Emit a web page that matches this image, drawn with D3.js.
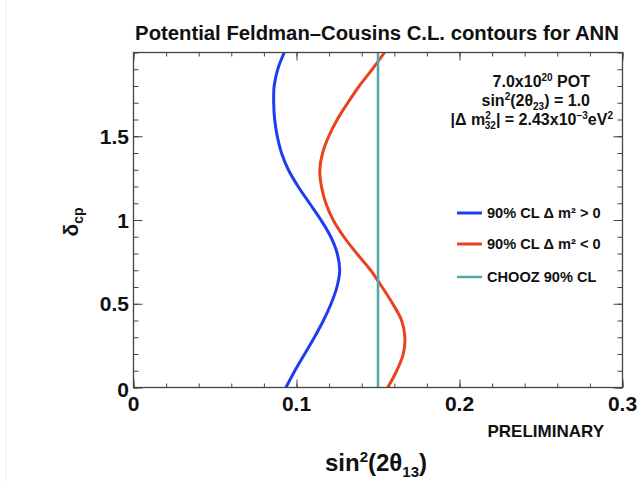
<!DOCTYPE html>
<html>
<head>
<meta charset="utf-8">
<script src="https://cdn.jsdelivr.net/npm/d3@7"></script>
<style>
  html, body { margin: 0; padding: 0; background: #fff; }
  svg { display: block; }
  text { font-family: "Liberation Sans", Arial, Helvetica, sans-serif; font-weight: bold; fill: #111; }
</style>
</head>
<body>
<svg id="chart" width="639" height="481"></svg>
<script>
// delta_CP values (units of pi) at which the contours are sampled
const deltaCP = [0.0, 0.1, 0.2, 0.3, 0.4, 0.5, 0.6, 0.7, 0.8, 0.9, 1.0,
                 1.1, 1.2, 1.3, 1.4, 1.5, 1.6, 1.7, 1.8, 1.9, 2.0];
// 90% CL contour, normal hierarchy (dm2 > 0)
const sin2NormalHier = [0.0935, 0.0990, 0.1050, 0.1110, 0.1165, 0.1212, 0.1248, 0.1265, 0.1250, 0.1210, 0.1150,
                        0.1080, 0.1010, 0.0950, 0.0908, 0.0882, 0.0866, 0.0860, 0.0863, 0.0885, 0.0925];
// 90% CL contour, inverted hierarchy (dm2 < 0)
const sin2InvertedHier = [0.1560, 0.1615, 0.1655, 0.1665, 0.1645, 0.1590, 0.1525, 0.1455, 0.1370, 0.1290, 0.1225,
                          0.1180, 0.1153, 0.1143, 0.1160, 0.1198, 0.1250, 0.1315, 0.1385, 0.1465, 0.1540];
// CHOOZ 90% CL limit
const choozLimit = 0.15;

const xTicks = [0, 0.1, 0.2, 0.3];
const yTicks = [0, 0.5, 1, 1.5];

const legendLabels = ["90% CL \u0394 m\u00B2 > 0", "90% CL \u0394 m\u00B2 < 0", "CHOOZ 90% CL"];
const colors = { normal: "#1e3cf0", inverted: "#e8421e", chooz: "#4fa9a9" };

const svg = d3.select("#chart");
const frame = { left: 133.5, right: 622.5, top: 52.5, bottom: 387.5 };

const x = d3.scaleLinear().domain([0, 0.3]).range([frame.left, frame.right]);
const y = d3.scaleLinear().domain([0, 2]).range([frame.bottom, frame.top]);

// faint page edge
svg.append("line").attr("x1", 6).attr("x2", 6).attr("y1", 0).attr("y2", 481)
  .attr("stroke", "#ececec").attr("stroke-width", 1);

// title
svg.append("text").attr("x", 377).attr("y", 40).attr("text-anchor", "middle")
  .style("font-size", "20.3px").text("Potential Feldman\u2013Cousins C.L. contours for ANN");

// contours
svg.append("clipPath").attr("id", "plotclip").append("rect")
  .attr("x", frame.left).attr("y", frame.top)
  .attr("width", frame.right - frame.left).attr("height", frame.bottom - frame.top);

const plot = svg.append("g").attr("clip-path", "url(#plotclip)");

const contour = d3.line()
  .x(d => x(d[0]))
  .y(d => y(d[1]))
  .curve(d3.curveCatmullRom.alpha(0.5));

plot.append("path")
  .datum(d3.zip(sin2NormalHier, deltaCP))
  .attr("d", contour).attr("fill", "none")
  .attr("stroke", colors.normal).attr("stroke-width", 3);

plot.append("path")
  .datum(d3.zip(sin2InvertedHier, deltaCP))
  .attr("d", contour).attr("fill", "none")
  .attr("stroke", colors.inverted).attr("stroke-width", 3);

plot.append("line")
  .attr("x1", x(choozLimit)).attr("x2", x(choozLimit))
  .attr("y1", y(0)).attr("y2", y(2))
  .attr("stroke", colors.chooz).attr("stroke-width", 2.5);

// axes: ticks point into the frame on all four sides
const axisColor = "#444";
const xMinor = d3.range(0, 0.3001, 0.02);
const yMinor = d3.range(0, 2.0001, 0.1);

function drawTicks(g, axis) {
  g.call(axis);
  g.select(".domain").remove();
  g.selectAll(".tick line").attr("stroke", axisColor).attr("stroke-width", 1);
  g.selectAll(".tick text").remove();
}

drawTicks(svg.append("g").attr("transform", `translate(0,${frame.bottom})`),
  d3.axisBottom(x).tickValues(xMinor).tickSize(-4));
drawTicks(svg.append("g").attr("transform", `translate(0,${frame.bottom})`),
  d3.axisBottom(x).tickValues(xTicks).tickSize(-8));
drawTicks(svg.append("g").attr("transform", `translate(0,${frame.top})`),
  d3.axisTop(x).tickValues(xMinor).tickSize(-4));
drawTicks(svg.append("g").attr("transform", `translate(0,${frame.top})`),
  d3.axisTop(x).tickValues(xTicks).tickSize(-8));
drawTicks(svg.append("g").attr("transform", `translate(${frame.left},0)`),
  d3.axisLeft(y).tickValues(yMinor).tickSize(-5));
drawTicks(svg.append("g").attr("transform", `translate(${frame.left},0)`),
  d3.axisLeft(y).tickValues(yTicks).tickSize(-9));
drawTicks(svg.append("g").attr("transform", `translate(${frame.right},0)`),
  d3.axisRight(y).tickValues(yMinor).tickSize(-5));
drawTicks(svg.append("g").attr("transform", `translate(${frame.right},0)`),
  d3.axisRight(y).tickValues(yTicks).tickSize(-9));

svg.append("rect")
  .attr("x", frame.left).attr("y", frame.top)
  .attr("width", frame.right - frame.left).attr("height", frame.bottom - frame.top)
  .attr("fill", "none").attr("stroke", axisColor).attr("stroke-width", 1.3);

// tick labels
svg.append("g").selectAll("text").data(xTicks).join("text")
  .attr("x", d => x(d)).attr("y", 411)
  .attr("text-anchor", "middle").style("font-size", "21px")
  .text(d => d3.format("")(d));

svg.append("g").selectAll("text").data(yTicks).join("text")
  .attr("x", 129).attr("y", d => y(d) + (d === 0 ? 9 : 7.5))
  .attr("text-anchor", "end").style("font-size", "21px")
  .text(d => d3.format("")(d));

// axis titles
const xTitle = svg.append("text").attr("x", 376).attr("y", 471)
  .attr("text-anchor", "middle").style("font-size", "24px");
xTitle.append("tspan").text("sin");
xTitle.append("tspan").attr("dy", -9).style("font-size", "15px").text("2");
xTitle.append("tspan").attr("dy", 9).text("(2\u03B8");
xTitle.append("tspan").attr("dy", 6).style("font-size", "15px").text("13");
xTitle.append("tspan").attr("dy", -6).text(")");

const yTitle = svg.append("text")
  .attr("transform", "translate(78,222) rotate(-90)")
  .attr("text-anchor", "middle").style("font-size", "21px");
yTitle.append("tspan").text("\u03B4");
yTitle.append("tspan").attr("dy", 5).style("font-size", "14px").text("cp");

svg.append("text").attr("x", 604).attr("y", 437).attr("text-anchor", "end")
  .style("font-size", "17px").text("PRELIMINARY");

// run conditions
const info = svg.append("g");
const l1 = info.append("text").attr("x", 590).attr("y", 87).attr("text-anchor", "end").style("font-size", "16px");
l1.append("tspan").text("7.0x10");
l1.append("tspan").attr("dy", -6).style("font-size", "10px").text("20");
l1.append("tspan").attr("dy", 6).text(" POT");

const l2 = info.append("text").attr("x", 590).attr("y", 106).attr("text-anchor", "end").style("font-size", "16px");
l2.append("tspan").text("sin");
l2.append("tspan").attr("dy", -6).style("font-size", "10px").text("2");
l2.append("tspan").attr("dy", 6).text("(2\u03B8");
l2.append("tspan").attr("dy", 4).style("font-size", "10px").text("23");
l2.append("tspan").attr("dy", -4).text(") = 1.0");

const l3 = info.append("text").attr("x", 613).attr("y", 125).attr("text-anchor", "end").style("font-size", "16px");
l3.append("tspan").text("|\u0394 m");
l3.append("tspan").attr("dy", -6).style("font-size", "10px").text("2");
l3.append("tspan").attr("dx", -6).attr("dy", 10).style("font-size", "10px").text("32");
l3.append("tspan").attr("dy", -4).text("| = 2.43x10");
l3.append("tspan").attr("dy", -6).style("font-size", "10px").text("\u22123");
l3.append("tspan").attr("dy", 6).text("eV");
l3.append("tspan").attr("dy", -6).style("font-size", "10px").text("2");

// legend
const legendColors = [colors.normal, colors.inverted, colors.chooz];
const legendWidths = [3, 3, 2.5];
const legendY = [213, 244, 277];
const legend = svg.append("g");
legendLabels.forEach((lab, i) => {
  legend.append("line")
    .attr("x1", 457).attr("x2", 482)
    .attr("y1", legendY[i]).attr("y2", legendY[i])
    .attr("stroke", legendColors[i]).attr("stroke-width", legendWidths[i]);
  legend.append("text").attr("x", 487).attr("y", legendY[i] + 5)
    .style("font-size", "14.6px").text(lab);
});
</script>
</body>
</html>
